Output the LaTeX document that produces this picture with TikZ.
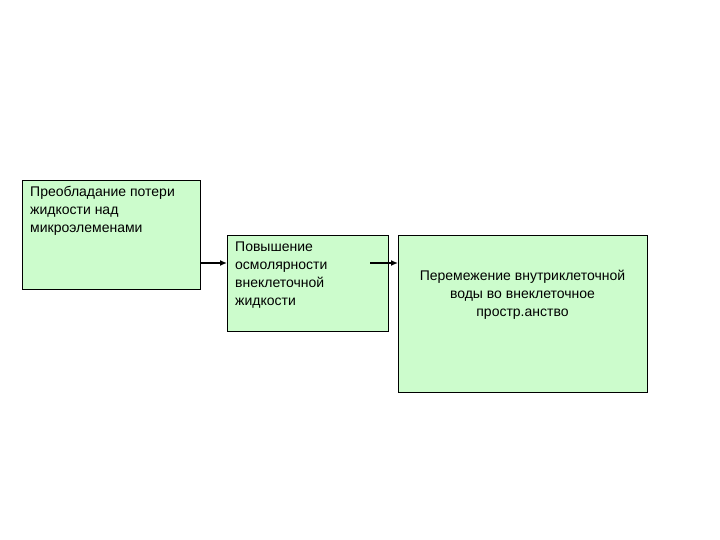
\documentclass[tikz,border=0pt]{standalone}
\usepackage{fontspec}
\setmainfont{Liberation Sans}
\usepackage{tikz}
\usetikzlibrary{positioning,arrows.meta}
\definecolor{boxgreen}{RGB}{204,252,204}

\begin{document}
\begin{tikzpicture}[x=1pt, y=-1pt,
  box/.style={draw, fill=boxgreen, line width=0.8pt, inner sep=0pt, anchor=north west},
  txt/.style={inner sep=0pt, font=\fontsize{14}{18}\selectfont},
  arr/.style={-{Latex[length=7pt,width=6pt]}, line width=1.3pt}
]
  \useasboundingbox (0,0) rectangle (720,540);
  \node[box, minimum width=178pt, minimum height=109pt] (loss) at (22,180) {};
  \node[box, minimum width=161pt, minimum height=96pt] (osm) at (227,235) {};
  \node[box, minimum width=249pt, minimum height=157pt] (shift) at (398,235) {};
  \node[txt, anchor=north west, align=left] (losstxt) at (30,186.5) {Преобладание потери\\жидкости над\\микроэлеменами};
  \node[txt, anchor=north west, align=left] (osmtxt) at (235,242) {Повышение\\осмолярности\\внеклеточной\\жидкости};
  \node[txt, anchor=north, align=center] (shifttxt) at (522.5,270) {Перемежение внутриклеточной\\воды во внеклеточное\\простр.анство};
  % connectors
  \coordinate (from1) at (200,263);
  \coordinate (from2) at (370,263);
  \draw[arr] (from1) -- (from1 -| osm.west);
  \draw[arr] (from2) -- (from2 -| shift.west);
\end{tikzpicture}
\end{document}
